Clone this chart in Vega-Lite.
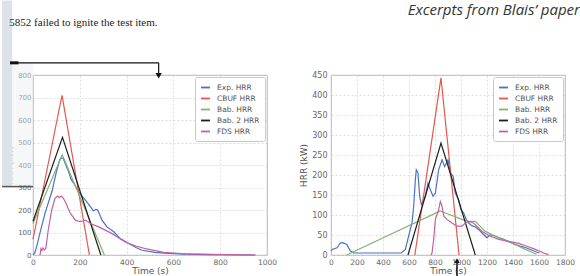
{
  "$schema": "https://vega.github.io/schema/vega-lite/v6.json",
  "background": "white",
  "padding": {"left": 0, "top": 0, "right": 2, "bottom": 0},
  "spacing": 64,
  "bounds": "flush",
  "config": {
    "font": "DejaVu Sans",
    "view": {"stroke": "#a0a0a0", "strokeWidth": 0.8},
    "axis": {"grid": true, "gridColor": "#d0d0d0", "gridDash": [2, 2], "gridWidth": 0.7, "domain": false, "ticks": false, "labelColor": "#666", "titleColor": "#555", "titleFontWeight": "normal", "labelFont": "DejaVu Sans", "titleFont": "DejaVu Sans"},
    "legend": {"orient": "top-right", "offset": 2, "fillColor": "white", "strokeColor": "#c8c8c8", "padding": 5, "symbolType": "stroke", "symbolStrokeWidth": 1.8, "symbolSize": 80, "labelFontSize": 7.5, "labelColor": "#555", "rowPadding": 1, "labelOffset": 6, "cornerRadius": 2}
  },
  "datasets": {
    "left": [
      {"series": "Exp. HRR", "t": 0, "v": 0}, {"series": "Exp. HRR", "t": 8, "v": 10}, {"series": "Exp. HRR", "t": 17, "v": 43}, {"series": "Exp. HRR", "t": 31, "v": 103}, {"series": "Exp. HRR", "t": 53, "v": 192}, {"series": "Exp. HRR", "t": 81, "v": 282}, {"series": "Exp. HRR", "t": 100, "v": 370}, {"series": "Exp. HRR", "t": 115, "v": 425}, {"series": "Exp. HRR", "t": 122, "v": 432}, {"series": "Exp. HRR", "t": 130, "v": 428}, {"series": "Exp. HRR", "t": 140, "v": 400}, {"series": "Exp. HRR", "t": 152, "v": 371}, {"series": "Exp. HRR", "t": 163, "v": 335}, {"series": "Exp. HRR", "t": 174, "v": 319}, {"series": "Exp. HRR", "t": 195, "v": 282}, {"series": "Exp. HRR", "t": 210, "v": 262}, {"series": "Exp. HRR", "t": 224, "v": 244}, {"series": "Exp. HRR", "t": 245, "v": 215}, {"series": "Exp. HRR", "t": 258, "v": 196}, {"series": "Exp. HRR", "t": 268, "v": 203}, {"series": "Exp. HRR", "t": 276, "v": 200}, {"series": "Exp. HRR", "t": 286, "v": 178}, {"series": "Exp. HRR", "t": 295, "v": 155}, {"series": "Exp. HRR", "t": 316, "v": 125}, {"series": "Exp. HRR", "t": 345, "v": 103}, {"series": "Exp. HRR", "t": 373, "v": 73}, {"series": "Exp. HRR", "t": 409, "v": 51}, {"series": "Exp. HRR", "t": 440, "v": 33}, {"series": "Exp. HRR", "t": 466, "v": 21}, {"series": "Exp. HRR", "t": 520, "v": 12}, {"series": "Exp. HRR", "t": 580, "v": 7}, {"series": "Exp. HRR", "t": 650, "v": 4}, {"series": "Exp. HRR", "t": 750, "v": 2}, {"series": "Exp. HRR", "t": 950, "v": 0},
      {"series": "CBUF HRR", "t": 0, "v": 70}, {"series": "CBUF HRR", "t": 124, "v": 710}, {"series": "CBUF HRR", "t": 241, "v": 0},
      {"series": "Bab. HRR", "t": 0, "v": 140}, {"series": "Bab. HRR", "t": 125, "v": 445}, {"series": "Bab. HRR", "t": 305, "v": 0},
      {"series": "Bab. 2 HRR", "t": 0, "v": 150}, {"series": "Bab. 2 HRR", "t": 126, "v": 523}, {"series": "Bab. 2 HRR", "t": 290, "v": 0},
      {"series": "FDS HRR", "t": 30, "v": 0}, {"series": "FDS HRR", "t": 34, "v": 28}, {"series": "FDS HRR", "t": 38, "v": 20}, {"series": "FDS HRR", "t": 42, "v": 32}, {"series": "FDS HRR", "t": 48, "v": 22}, {"series": "FDS HRR", "t": 55, "v": 30}, {"series": "FDS HRR", "t": 65, "v": 110}, {"series": "FDS HRR", "t": 80, "v": 200}, {"series": "FDS HRR", "t": 94, "v": 252}, {"series": "FDS HRR", "t": 105, "v": 262}, {"series": "FDS HRR", "t": 113, "v": 255}, {"series": "FDS HRR", "t": 120, "v": 262}, {"series": "FDS HRR", "t": 128, "v": 255}, {"series": "FDS HRR", "t": 138, "v": 237}, {"series": "FDS HRR", "t": 150, "v": 208}, {"series": "FDS HRR", "t": 160, "v": 185}, {"series": "FDS HRR", "t": 181, "v": 155}, {"series": "FDS HRR", "t": 202, "v": 148}, {"series": "FDS HRR", "t": 215, "v": 152}, {"series": "FDS HRR", "t": 224, "v": 155}, {"series": "FDS HRR", "t": 245, "v": 140}, {"series": "FDS HRR", "t": 281, "v": 125}, {"series": "FDS HRR", "t": 338, "v": 95}, {"series": "FDS HRR", "t": 394, "v": 58}, {"series": "FDS HRR", "t": 440, "v": 40}, {"series": "FDS HRR", "t": 480, "v": 28}, {"series": "FDS HRR", "t": 560, "v": 12}, {"series": "FDS HRR", "t": 650, "v": 5}, {"series": "FDS HRR", "t": 950, "v": 0}
    ],
    "right": [
      {"series": "Exp. HRR", "t": 0, "v": 10}, {"series": "Exp. HRR", "t": 8, "v": 14}, {"series": "Exp. HRR", "t": 46, "v": 18}, {"series": "Exp. HRR", "t": 72, "v": 30}, {"series": "Exp. HRR", "t": 90, "v": 31}, {"series": "Exp. HRR", "t": 110, "v": 28}, {"series": "Exp. HRR", "t": 123, "v": 26}, {"series": "Exp. HRR", "t": 149, "v": 10}, {"series": "Exp. HRR", "t": 175, "v": 5}, {"series": "Exp. HRR", "t": 540, "v": 5}, {"series": "Exp. HRR", "t": 572, "v": 14}, {"series": "Exp. HRR", "t": 597, "v": 47}, {"series": "Exp. HRR", "t": 623, "v": 80}, {"series": "Exp. HRR", "t": 636, "v": 122}, {"series": "Exp. HRR", "t": 649, "v": 188}, {"series": "Exp. HRR", "t": 656, "v": 213}, {"series": "Exp. HRR", "t": 669, "v": 205}, {"series": "Exp. HRR", "t": 682, "v": 147}, {"series": "Exp. HRR", "t": 695, "v": 126}, {"series": "Exp. HRR", "t": 710, "v": 135}, {"series": "Exp. HRR", "t": 726, "v": 147}, {"series": "Exp. HRR", "t": 746, "v": 180}, {"series": "Exp. HRR", "t": 764, "v": 163}, {"series": "Exp. HRR", "t": 785, "v": 147}, {"series": "Exp. HRR", "t": 803, "v": 155}, {"series": "Exp. HRR", "t": 828, "v": 213}, {"series": "Exp. HRR", "t": 854, "v": 238}, {"series": "Exp. HRR", "t": 874, "v": 221}, {"series": "Exp. HRR", "t": 900, "v": 238}, {"series": "Exp. HRR", "t": 918, "v": 205}, {"series": "Exp. HRR", "t": 940, "v": 197}, {"series": "Exp. HRR", "t": 956, "v": 155}, {"series": "Exp. HRR", "t": 982, "v": 138}, {"series": "Exp. HRR", "t": 1000, "v": 113}, {"series": "Exp. HRR", "t": 1021, "v": 105}, {"series": "Exp. HRR", "t": 1040, "v": 89}, {"series": "Exp. HRR", "t": 1059, "v": 80}, {"series": "Exp. HRR", "t": 1080, "v": 74}, {"series": "Exp. HRR", "t": 1110, "v": 70}, {"series": "Exp. HRR", "t": 1135, "v": 64}, {"series": "Exp. HRR", "t": 1162, "v": 55}, {"series": "Exp. HRR", "t": 1200, "v": 43}, {"series": "Exp. HRR", "t": 1225, "v": 51}, {"series": "Exp. HRR", "t": 1264, "v": 47}, {"series": "Exp. HRR", "t": 1328, "v": 39}, {"series": "Exp. HRR", "t": 1418, "v": 26}, {"series": "Exp. HRR", "t": 1500, "v": 18}, {"series": "Exp. HRR", "t": 1600, "v": 5},
      {"series": "CBUF HRR", "t": 645, "v": 0}, {"series": "CBUF HRR", "t": 846, "v": 443}, {"series": "CBUF HRR", "t": 985, "v": 0},
      {"series": "Bab. HRR", "t": 120, "v": 0}, {"series": "Bab. HRR", "t": 841, "v": 110}, {"series": "Bab. HRR", "t": 880, "v": 105}, {"series": "Bab. HRR", "t": 1008, "v": 89}, {"series": "Bab. HRR", "t": 1060, "v": 84}, {"series": "Bab. HRR", "t": 1110, "v": 84}, {"series": "Bab. HRR", "t": 1187, "v": 59}, {"series": "Bab. HRR", "t": 1290, "v": 43}, {"series": "Bab. HRR", "t": 1392, "v": 30}, {"series": "Bab. HRR", "t": 1495, "v": 14}, {"series": "Bab. HRR", "t": 1546, "v": 7}, {"series": "Bab. HRR", "t": 1580, "v": 2},
      {"series": "Bab. 2 HRR", "t": 592, "v": 0}, {"series": "Bab. 2 HRR", "t": 846, "v": 280}, {"series": "Bab. 2 HRR", "t": 1110, "v": 0},
      {"series": "FDS HRR", "t": 770, "v": 0}, {"series": "FDS HRR", "t": 777, "v": 5}, {"series": "FDS HRR", "t": 790, "v": 40}, {"series": "FDS HRR", "t": 803, "v": 89}, {"series": "FDS HRR", "t": 828, "v": 113}, {"series": "FDS HRR", "t": 841, "v": 134}, {"series": "FDS HRR", "t": 854, "v": 122}, {"series": "FDS HRR", "t": 867, "v": 97}, {"series": "FDS HRR", "t": 892, "v": 89}, {"series": "FDS HRR", "t": 931, "v": 80}, {"series": "FDS HRR", "t": 969, "v": 72}, {"series": "FDS HRR", "t": 1008, "v": 72}, {"series": "FDS HRR", "t": 1033, "v": 80}, {"series": "FDS HRR", "t": 1059, "v": 84}, {"series": "FDS HRR", "t": 1097, "v": 80}, {"series": "FDS HRR", "t": 1162, "v": 59}, {"series": "FDS HRR", "t": 1225, "v": 47}, {"series": "FDS HRR", "t": 1290, "v": 39}, {"series": "FDS HRR", "t": 1367, "v": 34}, {"series": "FDS HRR", "t": 1444, "v": 29}, {"series": "FDS HRR", "t": 1508, "v": 22}, {"series": "FDS HRR", "t": 1572, "v": 14}, {"series": "FDS HRR", "t": 1636, "v": 5}, {"series": "FDS HRR", "t": 1674, "v": 1}
    ]
  },
  "hconcat": [
    {
      "width": 234,
      "height": 180,
      "encoding": {
        "x": {"field": "t", "type": "quantitative", "title": "Time (s)", "scale": {"domain": [0, 1000], "nice": false, "zero": false}, "axis": {"values": [0, 200, 400, 600, 800, 1000], "format": "d", "labelFontSize": 7.5, "titleFontSize": 9, "labelPadding": 3, "titlePadding": 1, "labelFlush": false}},
        "y": {"field": "v", "type": "quantitative", "title": "HRR (kW)", "scale": {"domain": [0, 800], "nice": false}, "axis": {"values": [0, 100, 200, 300, 400, 500, 600, 700, 800], "format": "d", "labelFontSize": 7, "titleFontSize": 8, "titleColor": "#b0b0b0", "labelPadding": 2, "titlePadding": 3, "labelFlush": false}}
      },
      "layer": [
        {
          "data": {"name": "left"},
          "mark": {"type": "line", "strokeWidth": 1.2},
          "encoding": {
            "color": {"field": "series", "type": "nominal", "scale": {"domain": ["Exp. HRR", "CBUF HRR", "Bab. HRR", "Bab. 2 HRR", "FDS HRR"], "range": ["#4a72c6", "#e4564c", "#86b272", "#1e1e1e", "#c4619f"]}, "legend": {"title": null}}
          }
        },
        {
          "data": {"values": [{"t": -132, "t2": -89, "v": 304, "v2": 1131}]},
          "mark": {"type": "rect", "color": "#dde1e8"},
          "encoding": {"x2": {"field": "t2"}, "y2": {"field": "v2"}}
        },
        {
          "data": {"values": [{"t": -89, "t2": 0, "v": 304, "v2": 856}]},
          "mark": {"type": "rect", "color": "#eceef2", "opacity": 0.45},
          "encoding": {"x2": {"field": "t2"}, "y2": {"field": "v2"}}
        },
        {
          "data": {"values": [{"t": -132, "t2": 0, "v": 304}]},
          "mark": {"type": "rule", "color": "#555", "strokeWidth": 1.5},
          "encoding": {"x2": {"field": "t2"}}
        },
        {
          "data": {"values": [{"t": -98, "t2": 537, "v": 854}]},
          "mark": {"type": "rule", "color": "#111", "strokeWidth": 1.2},
          "encoding": {"x2": {"field": "t2"}}
        },
        {
          "data": {"values": [{"t": -98, "t2": -62, "v": 854}]},
          "mark": {"type": "rule", "color": "#111", "strokeWidth": 3},
          "encoding": {"x2": {"field": "t2"}}
        },
        {
          "data": {"values": [{"t": 537, "v": 854, "v2": 805}]},
          "mark": {"type": "rule", "color": "#111", "strokeWidth": 1.2},
          "encoding": {"y2": {"field": "v2"}}
        },
        {
          "data": {"values": [{"t": 537, "v": 797}]},
          "mark": {"type": "point", "shape": "triangle-down", "filled": true, "color": "#111", "size": 40, "opacity": 1}
        },
        {
          "data": {"values": [{"t": -101, "v": 1030, "label": "5852 failed to ignite the test item."}]},
          "mark": {"type": "text", "align": "left", "baseline": "middle", "font": "Liberation Serif", "fontSize": 11, "color": "#222"},
          "encoding": {"text": {"field": "label"}}
        }
      ]
    },
    {
      "width": 234,
      "height": 180,
      "title": {"text": "Excerpts from Blais’ paper", "anchor": "end", "frame": "group", "font": "Open Sans", "fontStyle": "italic", "fontSize": 15, "fontWeight": "normal", "color": "#333", "offset": 53, "dx": 15},
      "encoding": {
        "x": {"field": "t", "type": "quantitative", "title": "Time (s)", "scale": {"domain": [0, 1800], "nice": false, "zero": false}, "axis": {"values": [0, 200, 400, 600, 800, 1000, 1200, 1400, 1600, 1800], "format": "d", "labelFontSize": 7.5, "titleFontSize": 9, "labelPadding": 3, "titlePadding": 1, "labelFlush": false}},
        "y": {"field": "v", "type": "quantitative", "title": "HRR (kW)", "scale": {"domain": [0, 450], "nice": false}, "axis": {"values": [0, 50, 100, 150, 200, 250, 300, 350, 400, 450], "format": "d", "labelFontSize": 8, "titleFontSize": 9, "labelPadding": 4, "titlePadding": 3, "labelFlush": false}}
      },
      "layer": [
        {
          "data": {"name": "right"},
          "mark": {"type": "line", "strokeWidth": 1.2},
          "encoding": {
            "color": {"field": "series", "type": "nominal", "scale": {"domain": ["Exp. HRR", "CBUF HRR", "Bab. HRR", "Bab. 2 HRR", "FDS HRR"], "range": ["#4a72c6", "#e4564c", "#86b272", "#1e1e1e", "#c4619f"]}, "legend": {"title": null}}
          }
        },
        {
          "data": {"values": [{"t": 969, "v": -14, "v2": -70}]},
          "mark": {"type": "rule", "color": "#111", "strokeWidth": 1.5},
          "encoding": {"y2": {"field": "v2"}}
        },
        {
          "data": {"values": [{"t": 969, "v": -14}]},
          "mark": {"type": "point", "shape": "triangle-up", "filled": true, "color": "#111", "size": 30, "opacity": 1}
        }
      ]
    }
  ],
  "resolve": {"legend": {"color": "independent"}, "scale": {"color": "independent"}}
}
